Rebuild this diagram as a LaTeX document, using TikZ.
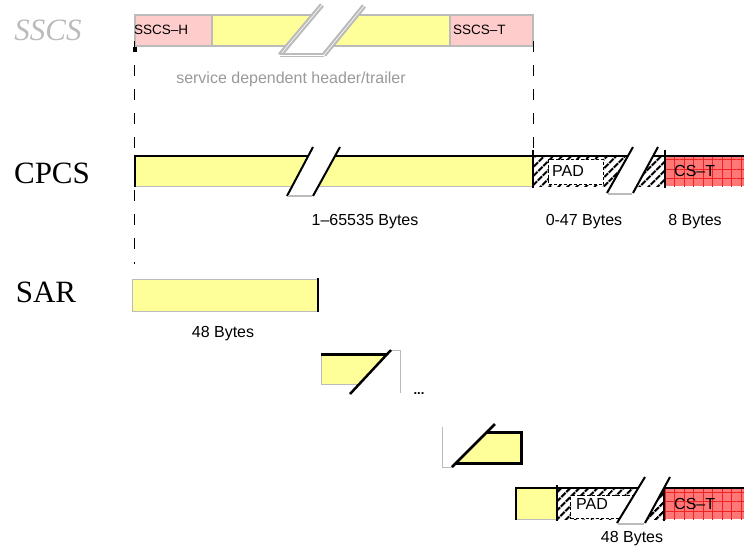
\documentclass[tikz,border=0pt]{standalone}
\usepackage{fontspec}
\setmainfont{Liberation Sans}
\newfontfamily\serifx{Liberation Serif}
\usetikzlibrary{patterns.meta}
\definecolor{yel}{HTML}{FFFF99}
\definecolor{pnk}{HTML}{FFCCCC}
\definecolor{gry}{HTML}{BBBBBB}
\definecolor{txtgry}{HTML}{999999}
\definecolor{csred}{HTML}{FF7777}
\definecolor{gridred}{HTML}{EE2222}
\tikzset{
  lbl/.style={font=\fontsize{16}{18}\selectfont, inner sep=0pt},
  small/.style={font=\fontsize{13.5}{15}\selectfont, inner sep=0pt},
  big/.style={font=\serifx\fontsize{31}{33}\selectfont, inner sep=0pt},
  thickb/.style={line width=2.5pt, black},
  slash/.style={line width=2pt, black},
  thin gray/.style={line width=1pt, gry},
  hatchfill/.style={pattern={Lines[angle=45,distance=6.5pt,line width=2.3pt]}, pattern color=black},
  gridfill/.style={pattern={Hatch[angle=0,distance=9.5pt,line width=0.6pt]}, pattern color=gridred},
  padbox/.style={fill=white, draw=black, line width=1.3pt, dash pattern=on 3pt off 2pt},
  dashv/.style={line width=0.9pt, black, dash pattern=on 11pt off 13pt},
  breakfill/.style={fill=white, draw=none},
}
\begin{document}
\begin{tikzpicture}[x=1pt,y=-1pt]
\useasboundingbox (0,0) rectangle (744,549);

% ---------- SSCS ----------
\node[big, text=gry, font=\serifx\itshape\fontsize{31}{33}\selectfont] (lsscs) at (48,30) {SSCS};
\fill[pnk] (135,15) rectangle (212,46);
\fill[yel] (212,15) rectangle (450,46);
\fill[pnk] (450,15) rectangle (533,46);
\draw[gry, line width=2pt] (135,15) rectangle (533,46);
\draw[gry, line width=2pt] (212,15) -- (212,46) (450,15) -- (450,46);
\fill[white] (280,55) -- (322,5) -- (364,6) -- (324,55) -- cycle;
\draw[gry, line width=2.2pt, double=white, double distance=0.6pt] (280,55) -- (322,5);
\draw[gry, line width=2.2pt, double=white, double distance=0.6pt] (324,55) -- (364,6);
\draw[gry, line width=1.5pt, double=white, double distance=0.4pt] (280,55) -- (324,55);
\node[small, anchor=west] (ssch) at (134,30) {SSCS–H};
\node[small, anchor=west] (ssct) at (453,30) {SSCS–T};
\node[lbl, text=txtgry] (sdh) at (291,79) {service dependent header/trailer};

% dashed guides
\coordinate (d1a) at (134,49);
\coordinate (d1b) at (134,150);
\coordinate (d2a) at (533,49);
\coordinate (d2b) at (533,150);
\coordinate (d3a) at (134,190);
\coordinate (d3b) at (134,264);
\fill[black] (133,47) rectangle (137,52);
\draw[dashv] ([yshift=8pt]d1a) -- (d1b);
\draw[dashv] ([yshift=8pt]d2a) -- (d2b);
\draw[dashv] (d3a) -- (d3b);

% ---------- CPCS ----------
\node[big] (lcpcs) at (52,173) {CPCS};
\fill[yel] (135,156) rectangle (533,186);
\fill[hatchfill] (533,156) rectangle (665,186);
\node[padbox, minimum width=55pt, minimum height=25pt, anchor=north west] (pad1) at (548,159) {};
\node[lbl, anchor=west] (padt1) at (552,171) {PAD};
\fill[csred] (665,156) rectangle (744,186);
\fill[gridfill] (665,156) rectangle (744,186);
\node[lbl, anchor=west] (cst1) at (674,171) {CS–T};
\draw[thickb] (135,156) -- (744,156);
\draw[thin gray] (135,186) -- (533,186);
\draw[thickb] (135,155) -- (135,187);
\draw[line width=2pt] (533,150) -- (533,188);
\draw[line width=2pt] (665,150) -- (665,188);
% breaks
\fill[breakfill] (287,196) -- (313,147) -- (340,147) -- (313,196) -- cycle;
\draw[slash] (287,196) -- (313,147);
\draw[slash] (313,196) -- (340,147);
\draw[gry, line width=1.5pt] (288,196) -- (312,196);
\fill[breakfill] (607,193) -- (633,147) -- (658,147) -- (633,193) -- cycle;
\draw[slash] (607,193) -- (633,147);
\draw[slash] (633,193) -- (658,147);
\draw[gry, line width=1.5pt] (608,194) -- (632,194);
\node[lbl] (b1) at (365,222) {1–65535 Bytes};
\node[lbl] (b2) at (584,222) {0-47 Bytes};
\node[lbl] (b3) at (695,222) {8 Bytes};

% ---------- SAR ----------
\node[big] (lsar) at (46,292) {SAR};
\fill[yel] (132,279) rectangle (318,311);
\draw[thin gray] (318,279) -- (132,279) -- (132,311) -- (318,311);
\draw[thickb] (318,278) -- (318,312);
\node[lbl] (b4) at (223,334) {48 Bytes};

% middle cell
\fill[yel] (321,354) -- (387,354) -- (359,384) -- (321,384) -- cycle;
\draw[thin gray] (321,354) -- (321,384) -- (359,384);
\draw[thin gray] (391,350) -- (400,350) -- (400,393);
\draw[line width=3pt] (321,354) -- (387,354);
\draw[line width=2.5pt] (350,394) -- (391,350);
\node[font=\bfseries\fontsize{13}{15}\selectfont, inner sep=0pt] (dots) at (419,394) {...};

% third cell
\fill[yel] (487,432) -- (521,432) -- (521,463) -- (456,463) -- cycle;
\draw[thin gray] (442,427) -- (442,467) -- (452,467);
\draw[line width=3pt] (487,432) -- (521,432) -- (521,463) -- (456,463);
\draw[line width=2.5pt] (452,467) -- (495,424);

% last row
\fill[yel] (516,488) rectangle (557,519);
\fill[hatchfill] (557,488) rectangle (664,519);
\node[padbox, minimum width=63pt, minimum height=23pt, anchor=north west] (pad2) at (570,495) {};
\node[lbl, anchor=west] (padt2) at (576,504) {PAD};
\fill[csred] (664,488) rectangle (744,519);
\fill[gridfill] (664,488) rectangle (744,519);
\node[lbl, anchor=west] (cst2) at (674,504) {CS–T};
\draw[thin gray] (516,519) -- (557,519);
\draw[thickb] (516,488) -- (744,488);
\draw[thickb] (516,487) -- (516,520);
\draw[line width=2pt] (557,485) -- (557,521);
\draw[line width=2pt] (664,485) -- (664,521);
\fill[breakfill] (617,523) -- (645,477) -- (670,477) -- (645,523) -- cycle;
\draw[slash] (617,523) -- (645,477);
\draw[slash] (645,523) -- (670,477);
\draw[gry, line width=1.5pt] (618,524) -- (644,524);
\node[lbl] (b5) at (632,539) {48 Bytes};
\end{tikzpicture}
\end{document}
